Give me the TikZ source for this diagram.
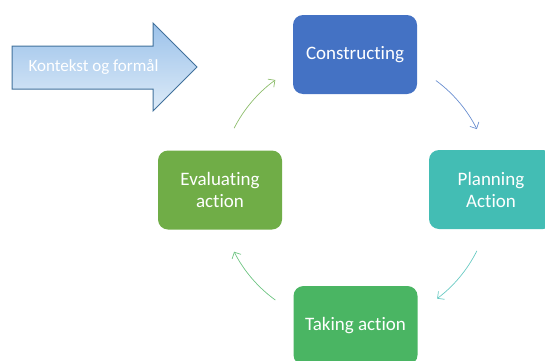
\documentclass[tikz,border=0pt]{standalone}
\usepackage{fontspec}
\setmainfont{Carlito}[Ligatures=NoCommon]
\usetikzlibrary{positioning,calc,arrows.meta}

\definecolor{conblue}{HTML}{4472C4}
\definecolor{planteal}{HTML}{43BDB4}
\definecolor{takegreen}{HTML}{4AB563}
\definecolor{evalgreen}{HTML}{70AD47}
\definecolor{ctxedge}{HTML}{41719C}
\definecolor{ctxtop}{HTML}{9CC2EA}
\definecolor{ctxbot}{HTML}{DDEBF8}

\tikzset{
  stepbox/.style={rounded corners=10pt, minimum width=124pt, minimum height=79pt,
    align=center, text=white, font=\fontsize{19}{22}\selectfont, inner sep=2pt},
  cyclearrow/.style={line width=0.7pt, -{Straight Barb[length=5pt,width=10pt]}},
}

\begin{document}
\begin{tikzpicture}[x=1pt,y=1pt]
    \useasboundingbox (0,0) rectangle (545,360);
    \clip (0,0) rectangle (545,360);

    \node[stepbox, fill=conblue] (con) at (355,305.5) {Constructing};
    \node[stepbox, fill=planteal] (plan) at (491,170.5) {Planning\\Action};
    \node[stepbox, fill=takegreen] (take) at (355.5,34.5) {Taking action};
    \node[stepbox, fill=evalgreen] (eval) at (220,170) {Evaluating\\action};

    % big arrow in front
    \draw[ctxedge, line width=1pt, top color=ctxtop, bottom color=ctxbot]
      (12,314) -- (153,314) -- (153,337) -- (197,293) -- (153,249) -- (153,271) -- (12,271) -- cycle;
    \node[text=white, font=\fontsize{17}{20}\selectfont] (ctx) at (93.5,293) {Kontekst og formål};

    \coordinate (mid) at ($(con)!0.5!(take)$);
    \coordinate (c1) at ($(mid)+(153:136pt)$);
    \coordinate (c2) at ($(mid)+(53.6:136pt)$);
    \coordinate (c3) at ($(mid)+(-26.6:136pt)$);
    \coordinate (c4) at ($(mid)+(-126:136pt)$);

    \draw[cyclearrow, evalgreen!80] (c1) arc[start angle=153, end angle=126, radius=136pt];
    \draw[cyclearrow, conblue!80] (c2) arc[start angle=53.6, end angle=26.6, radius=136pt];
    \draw[cyclearrow, planteal!80] (c3) arc[start angle=-26.6, end angle=-53, radius=136pt];
    \draw[cyclearrow, takegreen!80] (c4) arc[start angle=-126, end angle=-153, radius=136pt];
\end{tikzpicture}
\end{document}
